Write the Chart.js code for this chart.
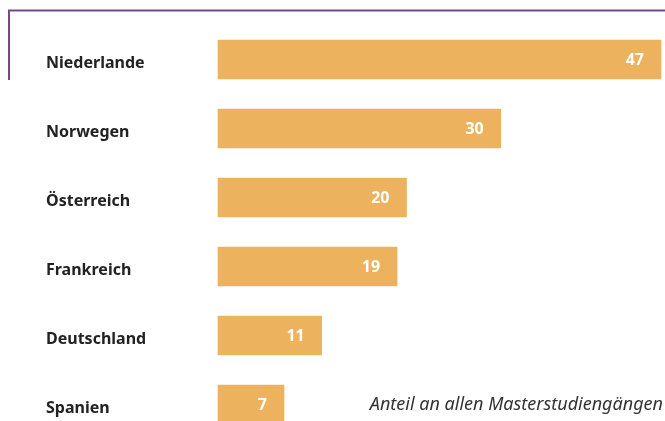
<!DOCTYPE html>
<html lang="de">
<head>
    <meta charset="UTF-8">
    <title>Anteil an allen Masterstudiengängen</title>
    <style>
        html, body {
            margin: 0;
            padding: 0;
            background: #ffffff;
        }
        #wrap {
            width: 665px;
            height: 421px;
            position: relative;
        }
    </style>
    <script src="https://cdn.jsdelivr.net/npm/chart.js"></script>
</head>
<body>
    <div id="wrap">
        <canvas id="barChart"></canvas>
    </div>

    <script>
        // Data
        const countries = ['Niederlande', 'Norwegen', 'Österreich', 'Frankreich', 'Deutschland', 'Spanien'];
        const shares = [47, 30, 20, 19, 11, 7];
        const noteText = 'Anteil an allen Masterstudiengängen';

        const barColor = '#ECB25D';
        const frameColor = '#744A86';
        const labelFont = '"Noto Sans", "DejaVu Sans", sans-serif';

        // purple frame line, value labels inside the bars and the note text
        const decorations = {
            id: 'decorations',
            afterDatasetsDraw(chart) {
                const ctx = chart.ctx;
                ctx.save();

                ctx.strokeStyle = frameColor;
                ctx.lineWidth = 2;
                ctx.beginPath();
                ctx.moveTo(9, 80);
                ctx.lineTo(9, 10.5);
                ctx.lineTo(chart.width, 10.5);
                ctx.stroke();

                const meta = chart.getDatasetMeta(0);
                ctx.fillStyle = '#ffffff';
                ctx.font = 'bold 16px ' + labelFont;
                ctx.textAlign = 'right';
                ctx.textBaseline = 'middle';
                meta.data.forEach((bar, i) => {
                    ctx.fillText(String(shares[i]), bar.x - 17, bar.y + 1);
                });

                const last = meta.data[meta.data.length - 1];
                ctx.fillStyle = '#333333';
                ctx.font = 'italic 18px ' + labelFont;
                ctx.textAlign = 'right';
                ctx.fillText(noteText, chart.width - 2, last.y);

                ctx.restore();
            }
        };

        const ctx = document.getElementById('barChart').getContext('2d');
        const chart = new Chart(ctx, {
            type: 'bar',
            data: {
                labels: countries,
                datasets: [{
                    data: shares,
                    backgroundColor: barColor,
                    borderWidth: 0,
                    barThickness: 39,
                    clip: false
                }]
            },
            options: {
                indexAxis: 'y',
                responsive: true,
                maintainAspectRatio: false,
                animation: false,
                layout: {
                    padding: { left: 46, right: 4, top: 59.5, bottom: 16.5 }
                },
                plugins: {
                    legend: { display: false },
                    tooltip: { enabled: false }
                },
                scales: {
                    x: {
                        display: false,
                        min: 0,
                        max: 47
                    },
                    y: {
                        offset: false,
                        border: { display: false },
                        grid: { display: false, drawTicks: false },
                        afterFit(scale) {
                            scale.width = 172;
                        },
                        ticks: {
                            crossAlign: 'far',
                            padding: 0,
                            labelOffset: 4,
                            color: '#222222',
                            font: { family: labelFont, size: 16, weight: 'bold' }
                        }
                    }
                }
            },
            plugins: [decorations]
        });
    </script>
</body>
</html>
